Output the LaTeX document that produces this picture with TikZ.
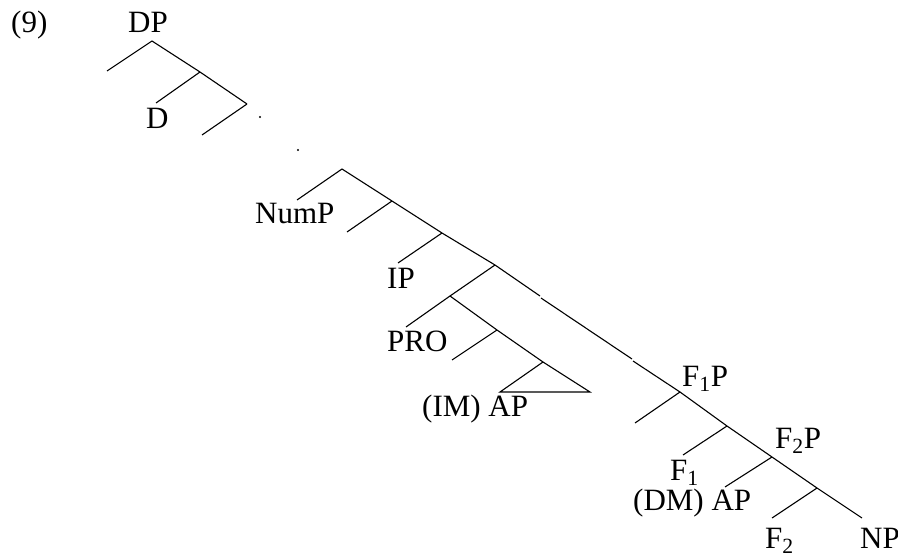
\documentclass[tikz,border=0pt]{standalone}
\usepackage{fontspec}
\setmainfont{Liberation Serif}
\begin{document}
\begin{tikzpicture}[x=1pt,y=-1pt,
  lbl/.style={anchor=base west,inner sep=0pt,font=\fontsize{31}{31}\selectfont},
  br/.style={line width=1.1pt,black},
  dotmark/.style={fill=black,circle,inner sep=0pt,minimum size=2.2pt}]
\useasboundingbox (0,0) rectangle (898,554);
% labels
\node[lbl] (ex) at (11,32) {(9)};
\node[lbl] (dp) at (128,32) {DP};
\node[lbl] (d) at (146,128) {D};
\node[lbl] (nump) at (255,223) {NumP};
\node[lbl] (ip) at (387,288) {IP};
\node[lbl] (pro) at (387,351) {PRO};
\node[lbl] (imap) at (422,416) {(IM) AP};
\node[lbl] (f1p) at (682,386) {F\textsubscript{1}P};
\node[lbl] (f2p) at (775,448) {F\textsubscript{2}P};
\node[lbl] (f1) at (670,480) {F\textsubscript{1}};
\node[lbl] (dmap) at (633,510) {(DM) AP};
\node[lbl] (f2) at (765,548) {F\textsubscript{2}};
\node[lbl] (np) at (860,548) {NP};
% tree points
\coordinate (n1) at (152,41);
\coordinate (n1l) at (107,71);
\coordinate (n2) at (200,72);
\coordinate (n2l) at (156,103);
\coordinate (n3) at (247,104);
\coordinate (n3l) at (202,135);
\node[dotmark] (dot1) at (260,117) {};
\node[dotmark] (dot2) at (298,150) {};
\coordinate (m1) at (342,169);
\coordinate (m1l) at (297,200);
\coordinate (m2) at (392,201);
\coordinate (m2l) at (347,232);
\coordinate (m3) at (442,233);
\coordinate (m3l) at (398,263);
\coordinate (m4) at (495,265);
\coordinate (k1) at (540,296);
\coordinate (k1b) at (541,298);
\coordinate (k2) at (632,359);
\coordinate (k2b) at (633,361);
\coordinate (p1) at (450,296);
\coordinate (p1l) at (406,327);
\coordinate (p2) at (497,330);
\coordinate (p2l) at (452,360);
\coordinate (t0) at (543,362);
\coordinate (tl) at (500,392);
\coordinate (tr) at (590,392);
\coordinate (f1n) at (680,392);
\coordinate (f1l) at (635,423);
\coordinate (f2n) at (727,426);
\coordinate (f2l) at (683,455);
\coordinate (f3n) at (772,457);
\coordinate (f3l) at (725,487);
\coordinate (f4n) at (817,488);
\coordinate (f4l) at (772,518);
\coordinate (f4r) at (862,518);
% branches
\draw[br] (n1l) -- (n1) -- (n2) -- (n3);
\draw[br] (n2l) -- (n2);
\draw[br] (n3l) -- (n3);
\draw[br] (m1l) -- (m1) -- (m2) -- (m3) -- (m4) -- (k1);
\draw[br] (m2l) -- (m2);
\draw[br] (m3l) -- (m3);
\draw[br] (k1b) -- (k2);
\draw[br] (k2b) -- (f1n);
\draw[br] (p1) -- (m4);
\draw[br] (p1l) -- (p1) -- (p2) -- (t0);
\draw[br] (p2l) -- (p2);
\draw[br] (t0) -- (tl) -- (tr) -- cycle;
\draw[br] (f1l) -- (f1n) -- (f2n) -- (f3n) -- (f4n) -- (f4r);
\draw[br] (f2l) -- (f2n);
\draw[br] (f3l) -- (f3n);
\draw[br] (f4l) -- (f4n);
\end{tikzpicture}
\end{document}
